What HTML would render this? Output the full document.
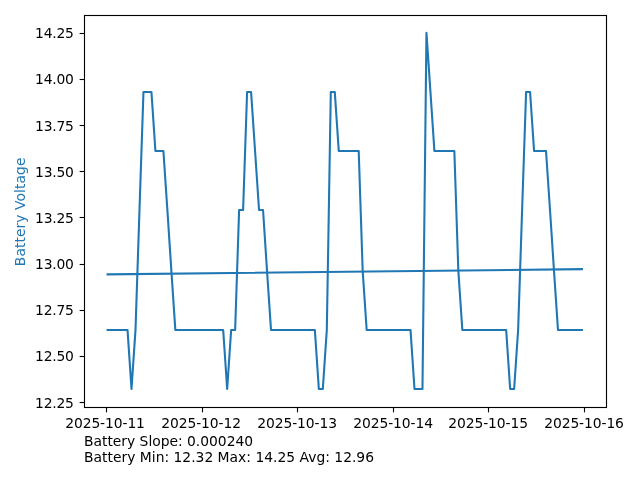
<!DOCTYPE html>
<html><head><meta charset="utf-8"><title>Battery Voltage</title>
<style>
html,body{margin:0;padding:0;background:#fff;width:640px;height:480px;overflow:hidden}
svg{display:block;will-change:transform}
text{font-family:"DejaVu Sans", "Liberation Sans", sans-serif;font-size:13.889px;fill:#000}
</style></head><body>
<svg width="640" height="480" viewBox="0 0 640 480">
<rect x="0" y="0" width="640" height="480" fill="#fff"/>
<g fill="none" stroke="#1f77b4" stroke-width="2.083" stroke-linejoin="round" stroke-linecap="square">
<polyline points="107.60,329.94 111.58,329.94 115.57,329.94 119.55,329.94 123.54,329.94 127.52,329.94 131.51,388.98 135.50,329.94 139.48,210.02 143.47,91.94 147.45,91.94 151.44,91.94 155.42,150.98 159.41,150.98 163.40,150.98 167.38,210.02 171.37,270.90 175.35,329.94 179.34,329.94 183.32,329.94 187.31,329.94 191.30,329.94 195.28,329.94 199.27,329.94 203.25,329.94 207.24,329.94 211.22,329.94 215.21,329.94 219.20,329.94 223.18,329.94 227.17,388.98 231.15,329.94 235.14,329.94 239.12,210.02 243.11,210.02 247.10,91.94 251.08,91.94 255.07,150.98 259.05,210.02 263.04,210.02 267.02,270.90 271.01,329.94 275.00,329.94 278.98,329.94 282.97,329.94 286.95,329.94 290.94,329.94 294.92,329.94 298.91,329.94 302.90,329.94 306.88,329.94 310.87,329.94 314.85,329.94 318.84,388.98 322.82,388.98 326.81,329.94 330.80,91.94 334.78,91.94 338.77,150.98 342.75,150.98 346.74,150.98 350.72,150.98 354.71,150.98 358.70,150.98 362.68,270.90 366.67,329.94 370.65,329.94 374.64,329.94 378.62,329.94 382.61,329.94 386.60,329.94 390.58,329.94 394.57,329.94 398.55,329.94 402.54,329.94 406.52,329.94 410.51,329.94 414.50,388.98 418.48,388.98 422.47,388.98 426.45,32.90 430.44,91.94 434.42,150.98 438.41,150.98 442.40,150.98 446.38,150.98 450.37,150.98 454.35,150.98 458.34,270.90 462.33,329.94 466.31,329.94 470.30,329.94 474.28,329.94 478.27,329.94 482.25,329.94 486.24,329.94 490.23,329.94 494.21,329.94 498.20,329.94 502.18,329.94 506.17,329.94 510.15,388.98 514.14,388.98 518.13,329.94 522.11,210.02 526.10,91.94 530.08,91.94 534.07,150.98 538.05,150.98 542.04,150.98 546.03,150.98 550.01,210.02 554.00,270.90 557.98,329.94 561.97,329.94 565.95,329.94 569.94,329.94 573.93,329.94 577.91,329.94 581.90,329.94"/>
<polyline points="107.60,274.40 581.90,269.16"/>
</g>
<g stroke="#000" stroke-width="1.111" stroke-linecap="butt"><line x1="106.5" y1="407.5" x2="106.5" y2="412.36"/><line x1="202.5" y1="407.5" x2="202.5" y2="412.36"/><line x1="297.5" y1="407.5" x2="297.5" y2="412.36"/><line x1="393.5" y1="407.5" x2="393.5" y2="412.36"/><line x1="488.5" y1="407.5" x2="488.5" y2="412.36"/><line x1="584.5" y1="407.5" x2="584.5" y2="412.36"/><line x1="79.64" y1="33.5" x2="84.5" y2="33.5"/><line x1="79.64" y1="79.5" x2="84.5" y2="79.5"/><line x1="79.64" y1="125.5" x2="84.5" y2="125.5"/><line x1="79.64" y1="171.5" x2="84.5" y2="171.5"/><line x1="79.64" y1="217.5" x2="84.5" y2="217.5"/><line x1="79.64" y1="264.5" x2="84.5" y2="264.5"/><line x1="79.64" y1="310.5" x2="84.5" y2="310.5"/><line x1="79.64" y1="356.5" x2="84.5" y2="356.5"/><line x1="79.64" y1="402.5" x2="84.5" y2="402.5"/></g>
<rect x="84.5" y="15.5" width="522.0" height="392.0" fill="none" stroke="#000" stroke-width="1.111" stroke-linejoin="miter"/>
<text x="65.20" y="428" textLength="79.74" lengthAdjust="spacing">2025-10-11</text>
<text x="161.30" y="428" textLength="79.74" lengthAdjust="spacing">2025-10-12</text>
<text x="257.30" y="428" textLength="79.74" lengthAdjust="spacing">2025-10-13</text>
<text x="353.30" y="428" textLength="79.74" lengthAdjust="spacing">2025-10-14</text>
<text x="448.30" y="428" textLength="79.74" lengthAdjust="spacing">2025-10-15</text>
<text x="544.20" y="428" textLength="79.74" lengthAdjust="spacing">2025-10-16</text>
<text x="35.05" y="38" textLength="38.85" lengthAdjust="spacing">14.25</text>
<text x="35.05" y="84" textLength="38.85" lengthAdjust="spacing">14.00</text>
<text x="35.05" y="131" textLength="38.85" lengthAdjust="spacing">13.75</text>
<text x="35.05" y="177" textLength="38.85" lengthAdjust="spacing">13.50</text>
<text x="35.05" y="223" textLength="38.85" lengthAdjust="spacing">13.25</text>
<text x="35.05" y="269" textLength="38.85" lengthAdjust="spacing">13.00</text>
<text x="35.05" y="315" textLength="38.85" lengthAdjust="spacing">12.75</text>
<text x="35.05" y="361" textLength="38.85" lengthAdjust="spacing">12.50</text>
<text x="35.05" y="408" textLength="38.85" lengthAdjust="spacing">12.25</text>
<text transform="translate(25.0,266.2) rotate(-90)" textLength="108.7" lengthAdjust="spacing" style="fill:#1f77b4">Battery Voltage</text>
<text x="84.0" y="446" textLength="169.06" lengthAdjust="spacing">Battery Slope: 0.000240</text>
<text x="84.0" y="462" textLength="290.02" lengthAdjust="spacing">Battery Min: 12.32 Max: 14.25 Avg: 12.96</text>
</svg>
</body></html>
